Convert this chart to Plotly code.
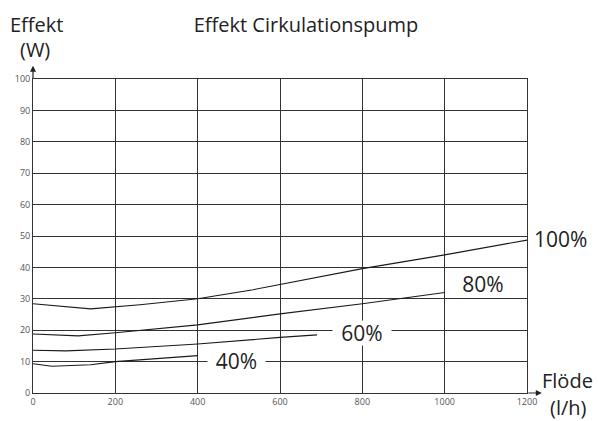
import plotly.graph_objects as go

# Pump power curves (W) against flow (l/h) for each speed setting
flow_100 = [0, 140, 260, 400, 535, 600, 800, 1000, 1200]
power_100 = [28.4, 26.8, 28.1, 30.0, 32.9, 34.6, 39.6, 44.0, 48.7]

flow_80 = [0, 110, 200, 400, 600, 800, 1000]
power_80 = [18.8, 18.2, 19.2, 21.7, 25.2, 28.4, 32.0]

flow_60 = [0, 80, 200, 400, 600, 690]
power_60 = [13.6, 13.4, 14.0, 15.6, 17.7, 18.5]

flow_40 = [0, 46, 140, 200, 400]
power_40 = [9.3, 8.5, 9.0, 10.0, 11.9]

x_ticks = [0, 200, 400, 600, 800, 1000, 1200]
y_ticks = [0, 10, 20, 30, 40, 50, 60, 70, 80, 90, 100]

FONT = "Open Sans"
GRID = "#333333"

fig = go.Figure()
for fx, py in [(flow_100, power_100), (flow_80, power_80),
               (flow_60, power_60), (flow_40, power_40)]:
    fig.add_trace(go.Scatter(x=fx, y=py, mode="lines",
                             line=dict(color="#1a1a1a", width=1.1),
                             showlegend=False, hoverinfo="skip"))

fig.update_layout(
    width=599, height=421,
    margin=dict(l=33, r=72, t=79, b=28),
    paper_bgcolor="white", plot_bgcolor="white",
    font=dict(family=FONT, color="#222"),
    title=dict(text="Effekt Cirkulationspump", x=306 / 599, xanchor="center",
               y=1 - 25 / 421, yanchor="middle",
               font=dict(family=FONT, size=20, color="#222")),
)
fig.update_xaxes(range=[0, 1200], tickvals=x_ticks, ticktext=[str(v) for v in x_ticks],
                 showgrid=True, gridcolor=GRID, gridwidth=1,
                 showline=True, linecolor=GRID, linewidth=1, mirror=True,
                 zeroline=False, ticks="",
                 tickfont=dict(family=FONT, size=9, color="#555"))
fig.update_yaxes(range=[0, 100], tickvals=y_ticks, ticktext=[str(v) for v in y_ticks],
                 showgrid=True, gridcolor=GRID, gridwidth=1,
                 showline=True, linecolor=GRID, linewidth=1, mirror=True,
                 zeroline=False, ticks="",
                 tickfont=dict(family=FONT, size=9, color="#555"))


def px_to_paper(px, py):
    """Convert a pixel offset in the page to paper coordinates of the plot area."""
    return (px - 33) / 494, (393.3 - py) / 314


# Curve labels
lab = dict(family=FONT, size=21, color="#222")
x100, y100 = px_to_paper(532, 239)
fig.add_annotation(xref="paper", yref="paper", x=x100, y=y100, text="100%",
                   showarrow=False, xanchor="left", yanchor="middle", font=lab)
fig.add_annotation(x=1093, y=34.6, text="80%", showarrow=False, font=lab,
                   bgcolor="white", width=58, height=24, borderpad=0)
fig.add_annotation(x=799, y=19.2, text="60%", showarrow=False, font=lab,
                   bgcolor="white", width=58, height=24, borderpad=0)
fig.add_annotation(x=495, y=10.3, text="40%", showarrow=False, font=lab,
                   bgcolor="white", width=57, height=24, borderpad=0)

# Axis titles
ax_font = dict(family=FONT, size=20, color="#222")
for text, cx, cy in [("Effekt", 36, 25), ("(W)", 35, 50),
                     ("Flöde", 567, 381), ("(l/h)", 568, 408)]:
    px, py = px_to_paper(cx, cy)
    fig.add_annotation(xref="paper", yref="paper", x=px, y=py, text=text,
                       showarrow=False, xanchor="center", yanchor="middle",
                       font=ax_font)

# Axis arrows
fig.add_annotation(xref="paper", yref="paper", x=0, y=1.042, ax=0, ay=14,
                   text="", showarrow=True, arrowhead=2, arrowsize=1,
                   arrowwidth=1.2, arrowcolor="#222")
fig.add_annotation(xref="paper", yref="paper", x=1.030, y=0, ax=-15, ay=0,
                   text="", showarrow=True, arrowhead=2, arrowsize=1,
                   arrowwidth=1.2, arrowcolor="#222")

fig.write_html("out.html")
